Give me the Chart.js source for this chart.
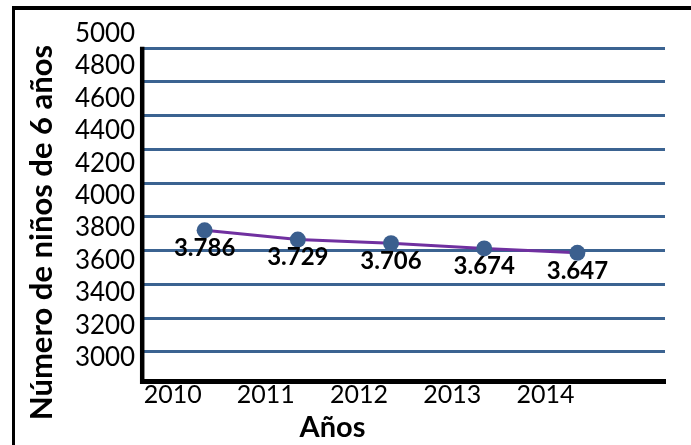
<!DOCTYPE html>
<html>
<head>
<meta charset="utf-8">
<script src="https://cdn.jsdelivr.net/npm/chart.js@4.4.1/dist/chart.umd.min.js"></script>
<style>
  html, body { margin: 0; padding: 0; background: #fff; }
  #wrap { position: relative; width: 691px; height: 445px; overflow: hidden; }
  #frame { position: absolute; left: 12px; top: 6px; right: 0; bottom: 0; border-top: 4px solid #000; border-left: 3px solid #000; pointer-events: none; }
  canvas { position: absolute; left: 0; top: 0; }
</style>
</head>
<body>
<div id="wrap">
  <canvas id="grafico" width="691" height="445"></canvas>
  <div id="frame"></div>
</div>
<script>
const years = [2010, 2011, 2012, 2013, 2014];
const children = [3786, 3729, 3706, 3674, 3647];
const yTickValues = [3000, 3200, 3400, 3600, 3800, 4000, 4200, 4400, 4600, 4800, 5000];
const gridValues = [3000, 3200, 3400, 3600, 3800, 4000, 4200, 4400, 4600, 4800];

function thousands(v) {
    return String(v).replace(/\B(?=(\d{3})+(?!\d))/g, '.');
}

// linea del eje vertical, solo desde la linea superior de la rejilla
const leftAxisLine = {
    id: 'leftAxisLine',
    beforeDatasetsDraw(chart) {
        const grid = chart.scales.yGrid;
        const area = chart.chartArea;
        const ctx = chart.ctx;
        ctx.save();
        ctx.strokeStyle = '#000';
        ctx.lineWidth = 4.5;
        ctx.beginPath();
        ctx.moveTo(area.left, grid.getPixelForValue(gridValues[gridValues.length - 1]) - 1.5);
        ctx.lineTo(area.left, area.bottom + 2.5);
        ctx.stroke();
        ctx.restore();
    }
};

// etiquetas de valor debajo de cada punto
const valueLabels = {
    id: 'valueLabels',
    afterDatasetsDraw(chart) {
        const meta = chart.getDatasetMeta(0);
        const ctx = chart.ctx;
        ctx.save();
        ctx.font = 'bold 24px Lato';
        ctx.fillStyle = '#000';
        ctx.textAlign = 'center';
        ctx.textBaseline = 'middle';
        meta.data.forEach(function (point, i) {
            ctx.fillText(thousands(children[i]), point.x, point.y + 18);
        });
        ctx.restore();
    }
};

const points = years.map(function (yr, i) {
    return { x: yr, y: children[i] };
});

new Chart(document.getElementById('grafico'), {
    type: 'line',
    data: {
        datasets: [{
            data: points,
            borderColor: '#7030a0',
            borderWidth: 3,
            pointRadius: 8,
            pointBackgroundColor: '#3b5f8e',
            pointBorderWidth: 0,
            xAxisID: 'x',
            yAxisID: 'y'
        }, {
            data: points,
            showLine: false,
            pointRadius: 1.5,
            pointBackgroundColor: '#d04545',
            pointBorderWidth: 0,
            xAxisID: 'x',
            yAxisID: 'y'
        }]
    },
    options: {
        responsive: false,
        animation: false,
        devicePixelRatio: 1,
        layout: {
            padding: { top: 20, right: 26, bottom: 0, left: 0 }
        },
        scales: {
            x: {
                type: 'linear',
                min: 2009.33,
                max: 2014.94,
                afterBuildTicks: function (scale) {
                    scale.ticks = years.map(function (v) { return { value: v }; });
                },
                afterFit: function (scale) {
                    scale.height = 28.8;
                },
                grid: { display: false, drawTicks: false },
                border: { display: true, color: '#000', width: 5 },
                ticks: {
                    labelOffset: -32,
                    padding: -1,
                    color: '#000',
                    font: { family: 'Lato', size: 25 },
                    callback: function (v) { return String(v); }
                }
            },
            y: {
                position: 'left',
                min: 2854,
                max: 5067,
                afterBuildTicks: function (scale) {
                    scale.ticks = yTickValues.map(function (v) { return { value: v }; });
                },
                afterFit: function (scale) {
                    scale.width = 82;
                },
                grid: { display: false, drawTicks: false },
                border: { display: false },
                ticks: {
                    padding: 7,
                    color: '#000',
                    font: { family: 'Lato', size: 26 },
                    callback: function (v) { return String(v); }
                }
            },
            yGrid: {
                position: 'left',
                min: 2824,
                max: 4952,
                afterBuildTicks: function (scale) {
                    scale.ticks = gridValues.map(function (v) { return { value: v }; });
                },
                afterFit: function (scale) {
                    scale.width = 0;
                },
                grid: { color: '#3b6391', lineWidth: 3, drawTicks: false },
                border: { display: false },
                ticks: { display: false }
            }
        },
        plugins: {
            legend: { display: false },
            tooltip: { enabled: false },
            title: {
                display: true,
                position: 'left',
                text: 'Número de niños de 6 años',
                color: '#000',
                font: { family: 'Lato', size: 31, weight: 'bold', lineHeight: 1.2 },
                padding: { top: 23, bottom: 0 }
            },
            subtitle: {
                display: true,
                position: 'bottom',
                text: 'Años',
                color: '#000',
                font: { family: 'Lato', size: 29, weight: 'bold', lineHeight: 1.2 },
                padding: { top: 0, bottom: 0 }
            }
        }
    },
    plugins: [leftAxisLine, valueLabels]
});
</script>
</body>
</html>
